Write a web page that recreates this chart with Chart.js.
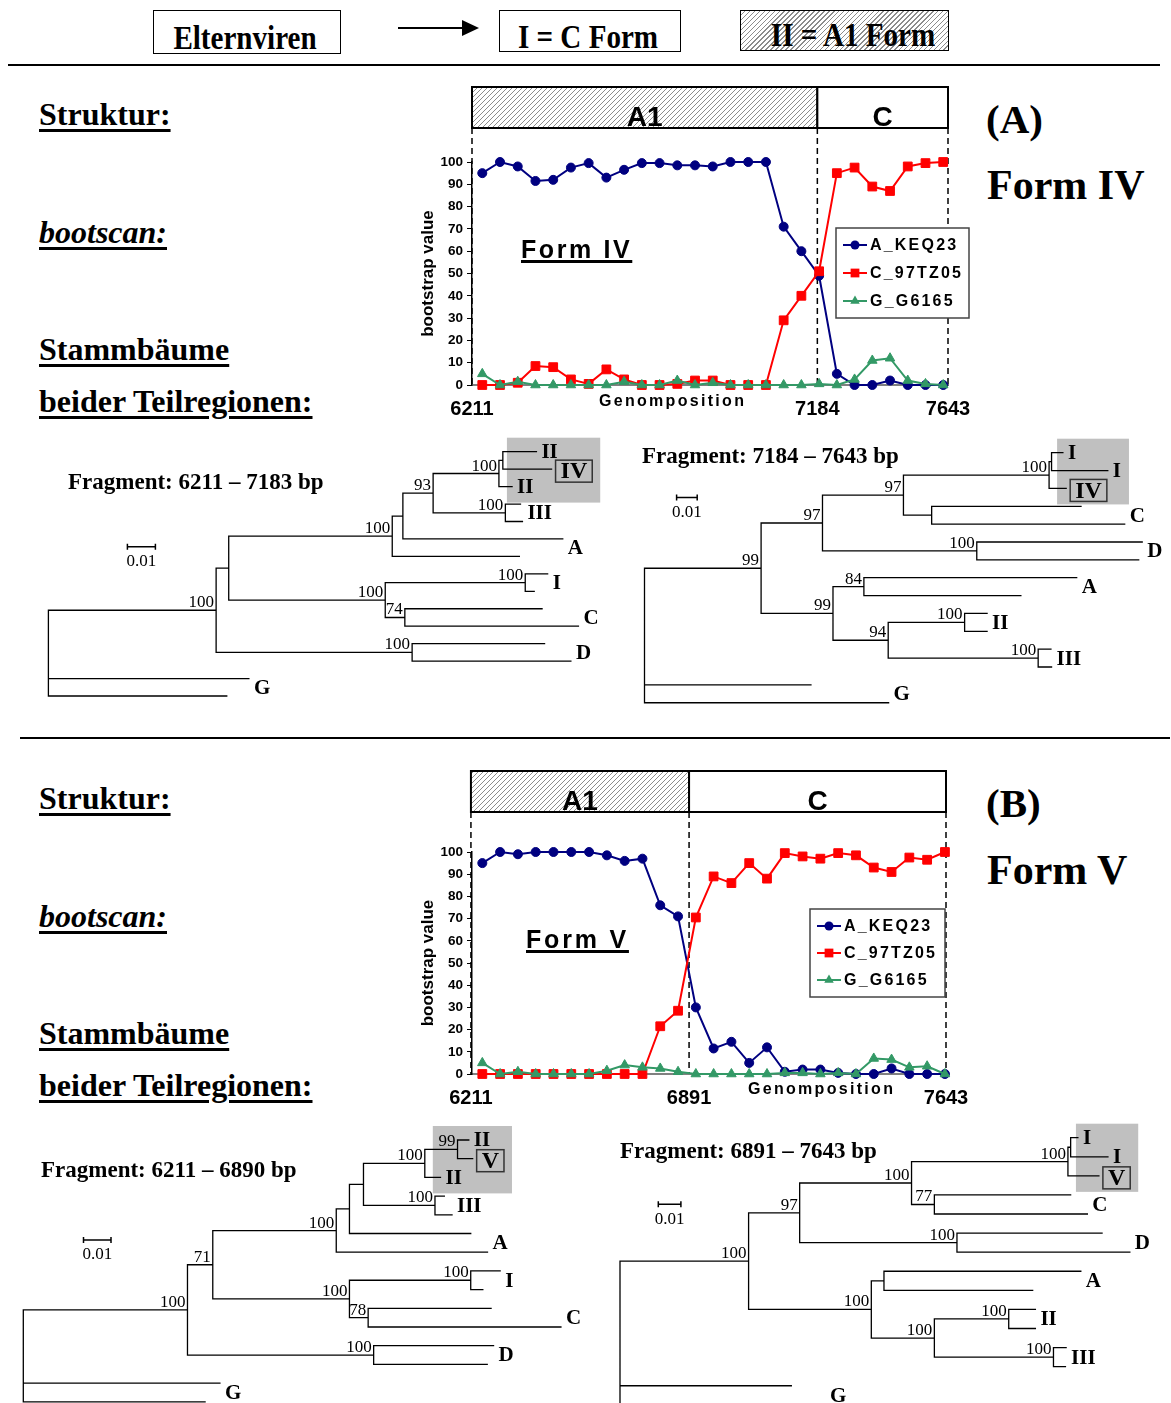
<!DOCTYPE html>
<html>
<head>
<meta charset="utf-8">
<script src="https://cdn.jsdelivr.net/npm/chart.js@4.4.1/dist/chart.umd.min.js"></script>
<style>
html, body { margin: 0; padding: 0; background: #fff; overflow: hidden; }
#page { position: relative; width: 1171px; height: 1403px; overflow: hidden; background: #fff; }
#page canvas { position: absolute; }
.t { position: absolute; white-space: nowrap; line-height: 1; color: #000; }
.serif { font-family: "Times New Roman", "Liberation Serif", serif; font-weight: bold; }
.sans { font-family: Arial, "Liberation Sans", sans-serif; font-weight: bold; }
.ul { text-decoration: underline; text-decoration-thickness: 3px; text-underline-offset: 3px; }
.box { position: absolute; box-sizing: border-box; border: 1.5px solid #000; }
.hatch { background: repeating-linear-gradient(135deg, #fff 0 2.4px, #8c8c8c 2.4px 3.5px); }
.rule { position: absolute; height: 2px; background: #000; }
</style>
</head>
<body>
<div id="page"></div>
<script>
// bootscan values, one per window along the genome (27 windows)
const formIV_A_KEQ23 = [95, 100, 98, 91.5, 92, 97.5, 99.5, 93, 96.5, 99.5, 99.5, 98.5, 98.5, 98, 100, 100, 100, 71, 60, 49, 5, 0, 0, 2, 0, 0, 0];
const formIV_C_97TZ05 = [0, 0, 1, 8.5, 8, 2.5, 0.5, 7, 2.5, 0, 0, 0.5, 2, 2, 0, 0, 0, 29, 40, 51, 95, 97.5, 89, 87, 98, 99.5, 100];
const formIV_G_G6165 = [5, 0, 1.5, 0, 0, 0, 0, 0, 1.5, 0, 0, 2, 0, 1, 0, 0, 0, 0, 0, 0.5, 0, 2.5, 11, 12, 2, 0.5, 0];

const formV_A_KEQ23 = [95, 100, 99, 100, 100, 100, 100, 98.5, 96, 97, 76, 71, 30, 11.5, 14.5, 5, 12, 1, 2, 2, 0.5, 0, 0, 2.5, 0, 0, 0];
const formV_C_97TZ05 = [0, 0, 0, 0, 0, 0, 0, 0, 0, 0, 21.5, 28.5, 70.5, 89, 86, 95, 88, 99.5, 98, 97, 99.5, 98.5, 93, 91, 97.5, 96.5, 100];
const formV_G_G6165 = [5, 0, 1, 0, 0, 0, 0, 1.5, 4, 3, 2.5, 1, 0, 0, 0, 0, 0, 0.5, 0.5, 0, 0.5, 0, 7, 6.5, 3, 3.5, 0];

const seriesNames = ['A_KEQ23', 'C_97TZ05', 'G_G6165'];
const segmentNames = ['A1', 'C'];

// breakpoints (window index) and their genome positions
const breaksIV = [-0.58, 18.9, 26.27];
const breakLabelsIV = ['6211', '7184', '7643'];
const breaksV = [-0.64, 11.62, 26.06];
const breakLabelsV = ['6211', '6891', '7643'];

// trees, newick; *name = own label, #name = boxed recombinant
const treeIV_6211_7183 = "((((((((*II:0.0120,#IV:0.0174):0.0014,*II:0.0047)100:0.0235,(III:0.0054,III:0.0061)100:0.0258)93:0.0108,A:0.0571):0.0038,A:0.0454)100:0.0584,((I:0.0080,I:0.0032)100:0.0500,(C:0.0490,C:0.0620)74:0.0070)100:0.0559):0.0045,(D:0.0473,D:0.0567)100:0.0700)100:0.0599,G:0.0716,G:0.0637);";
const treeIV_7184_7643 = "((((((*I:0.0055,*I:0.0273):0.0012,#IV:0.0083)100:0.0707,(C:0.0725,C:0.0937):0.0137)97:0.0393,(D:0.0803,D:0.0786)100:0.0749)97:0.0298,((A:0.1033,A:0.0762)84:0.0150,((II:0.0109,II:0.0109)100:0.0371,(III:0.0062,III:0.0065)100:0.0728)94:0.0268)99:0.0349)99:0.0566,G:0.0808,G:0.1185);";
const treeV_6211_6890 = "((((((((*II:0.0041,#V:0.0055)99:0.0119,*II:0.0057)100:0.0223,(III:0.0034,III:0.0062)100:0.0260):0.0051,A:0.0441):0.0048,A:0.0550)100:0.0449,((I:0.0107,I:0.0044)100:0.0441,(C:0.0447,C:0.0701)78:0.0068)100:0.0497)71:0.0092,(D:0.0436,D:0.0413)100:0.0677)100:0.0597,G:0.0715,G:0.0661);";
const treeV_6891_7643 = "((((((*I:0.0032,*I:0.0165):0.0012,#V:0.0137)100:0.0692,(C:0.0603,C:0.0677)77:0.0101)100:0.0495,(D:0.0642,D:0.0765)100:0.0696)97:0.0226,((A:0.0871,A:0.0658):0.0056,((II:0.0118,II:0.0118)100:0.0329,(III:0.0056,III:0.0053)100:0.0527)100:0.0279)100:0.0543)100:0.0569,G:0.0758,G:0.0907);";

const SANS = 'Arial, "Liberation Sans", sans-serif';
const SERIF = '"Times New Roman", "Liberation Serif", serif';

const page = document.getElementById('page');

function text(str, x, base, size, cls, extra) {
  const d = document.createElement('div');
  d.className = 't ' + cls;
  d.textContent = str;
  const k = cls.indexOf('sans') >= 0 ? 0.8465 : 0.8375;
  d.style.left = x + 'px';
  d.style.top = (base - k * size) + 'px';
  d.style.fontSize = size + 'px';
  if (extra) Object.assign(d.style, extra);
  page.appendChild(d);
  return d;
}

function block(cls, l, t, w, h) {
  const d = document.createElement('div');
  d.className = cls;
  Object.assign(d.style, {left: l + 'px', top: t + 'px', width: w + 'px', height: h + 'px'});
  page.appendChild(d);
  return d;
}

function canvasAt(l, t, w, h) {
  const c = document.createElement('canvas');
  c.width = w; c.height = h;
  Object.assign(c.style, {left: l + 'px', top: t + 'px', width: w + 'px', height: h + 'px'});
  page.appendChild(c);
  return c;
}

function hatchPattern(ctx) {
  const s = 5, p = document.createElement('canvas');
  p.width = s; p.height = s;
  const g = p.getContext('2d');
  g.strokeStyle = '#8c8c8c';
  g.lineWidth = 1;
  g.beginPath();
  g.moveTo(-1, s + 1); g.lineTo(s + 1, -1);
  g.moveTo(-1, 1); g.lineTo(1, -1);
  g.moveTo(s - 1, s + 1); g.lineTo(s + 1, s - 1);
  g.stroke();
  return ctx.createPattern(p, 'repeat');
}

function marker(ctx, style, x, y, r, color) {
  ctx.fillStyle = color;
  ctx.beginPath();
  if (style === 'circle') {
    ctx.arc(x, y, r, 0, Math.PI * 2);
  } else if (style === 'rect') {
    const s = r * Math.SQRT1_2;
    ctx.rect(x - s, y - s, 2 * s, 2 * s);
  } else {
    ctx.moveTo(x, y - r);
    ctx.lineTo(x + r * 0.866, y + r * 0.5);
    ctx.lineTo(x - r * 0.866, y + r * 0.5);
    ctx.closePath();
  }
  ctx.fill();
}

// ---------- header ----------
block('box', 153, 10, 188, 44);
block('box', 499, 10, 182, 42);
block('box hatch', 740, 10, 209, 41);
const hdr = {transform: 'translateX(-50%) scaleX(0.855)'};
text('Elternviren', 244.5, 49, 34, 'serif', hdr);
text('I = C Form', 588, 48, 34, 'serif', hdr);
text('II = A1 Form', 853, 46.7, 34, 'serif', hdr);
block('rule', 398, 27, 66, 1.5);
const head = block('', 462, 20, 0, 0);
Object.assign(head.style, {position: 'absolute', width: '0', height: '0', borderTop: '8px solid transparent', borderBottom: '8px solid transparent', borderLeft: '17px solid #000'});
block('rule', 8, 64, 1152, 2);
block('rule', 20, 737, 1150, 2);

// ---------- left labels ----------
[0, 684].forEach(dy => {
  text('Struktur:', 39, 125 + dy, 32, 'serif ul', {textUnderlineOffset: '3.5px'});
  text('bootscan:', 39, 242.7 + dy, 32, 'serif ul', {fontStyle: 'italic', textUnderlineOffset: '3.5px'});
  text('Stammbäume', 39, 359.3 + dy, 32, 'serif ul', {textUnderlineOffset: '3.5px'});
  text('beider Teilregionen:', 39, 411.7 + dy, 32, 'serif ul', {textUnderlineOffset: '3.5px'});
});
text('(A)', 986, 133.5, 41, 'serif');
text('Form IV', 987, 199.5, 42, 'serif');
text('(B)', 986, 817.5, 41, 'serif');
text('Form V', 987, 884.5, 42, 'serif');

// ---------- bootscan charts ----------
const seriesStyle = [
  {color: '#000080', pointStyle: 'circle', r: 4.5, order: 2},
  {color: '#ff0000', pointStyle: 'rect', r: 6.2, order: 1},
  {color: '#339966', pointStyle: 'triangle', r: 5.5, order: 0}
];

const scanPanels = [
  {canvas: [380, 80, 620, 360], area: [472, 162, 948, 385], xRange: [-0.58, 26.27],
   breaks: breaksIV, breakLabels: breakLabelsIV,
   series: [formIV_A_KEQ23, formIV_C_97TZ05, formIV_G_G6165],
   box: [87, 128], legend: [836, 228, 133, 90]},
  {canvas: [380, 760, 620, 360], area: [472, 852, 946, 1074], xRange: [-0.58, 26.06],
   breaks: breaksV, breakLabels: breakLabelsV,
   series: [formV_A_KEQ23, formV_C_97TZ05, formV_G_G6165],
   box: [771, 812], legend: [810, 909, 135, 88]}
];

function makeScan(p) {
  const [cl, ct, cw, ch] = p.canvas;
  const [al, at, ar, ab] = p.area;
  const YW = 60, XH = 40;
  const cv = canvasAt(cl, ct, cw, ch);

  const decor = {
    id: 'scanDecor',
    beforeDatasetsDraw(chart) {
      const ctx = chart.ctx, xs = chart.scales.x, area = chart.chartArea;
      const bx = p.breaks.map(v => xs.getPixelForValue(v));
      const top = p.box[0] - ct, bot = p.box[1] - ct;
      ctx.save();
      ctx.setLineDash([6, 4]);
      ctx.lineWidth = 1.5;
      ctx.strokeStyle = '#000';
      bx.forEach(x => {
        ctx.beginPath(); ctx.moveTo(x, bot); ctx.lineTo(x, area.bottom); ctx.stroke();
      });
      ctx.setLineDash([]);
      segmentNames.forEach((name, i) => {
        const x0 = bx[i], x1 = bx[i + 1];
        ctx.fillStyle = i === 0 ? hatchPattern(ctx) : '#fff';
        ctx.fillRect(x0, top, x1 - x0, bot - top);
        ctx.lineWidth = 2;
        ctx.strokeStyle = '#000';
        ctx.strokeRect(x0, top, x1 - x0, bot - top);
        ctx.fillStyle = '#000';
        ctx.font = 'bold 28px ' + SANS;
        ctx.textAlign = 'center';
        ctx.textBaseline = 'alphabetic';
        ctx.fillText(name, (x0 + x1) / 2, bot - 2);
      });
      ctx.restore();
    },
    afterDatasetsDraw(chart) {
      const ctx = chart.ctx;
      const [lx, ly, lw, lh] = p.legend;
      const x = lx - cl, y = ly - ct;
      ctx.save();
      ctx.fillStyle = '#fff';
      ctx.fillRect(x, y, lw, lh);
      ctx.strokeStyle = '#444';
      ctx.lineWidth = 1.5;
      ctx.strokeRect(x, y, lw, lh);
      const step = (lh - 34) / 2;
      chart.data.datasets.forEach((ds, i) => {
        const st = seriesStyle[i], ry = y + 17 + i * step;
        ctx.strokeStyle = st.color;
        ctx.lineWidth = 2;
        ctx.beginPath(); ctx.moveTo(x + 7, ry); ctx.lineTo(x + 31, ry); ctx.stroke();
        marker(ctx, st.pointStyle, x + 19, ry, st.r, st.color);
        ctx.fillStyle = '#000';
        ctx.font = 'bold 16px ' + SANS;
        ctx.letterSpacing = '2.2px';
        ctx.textAlign = 'left';
        ctx.textBaseline = 'middle';
        ctx.fillText(ds.label, x + 34, ry + 1);
        ctx.letterSpacing = '0px';
      });
      ctx.restore();
    }
  };

  new Chart(cv, {
    type: 'line',
    data: {
      datasets: p.series.map((vals, k) => ({
        label: seriesNames[k],
        data: vals.map((v, i) => ({x: i, y: v})),
        borderColor: seriesStyle[k].color,
        backgroundColor: seriesStyle[k].color,
        pointBackgroundColor: seriesStyle[k].color,
        pointBorderColor: seriesStyle[k].color,
        pointBorderWidth: 1,
        pointStyle: seriesStyle[k].pointStyle,
        pointRadius: seriesStyle[k].r,
        borderWidth: 2,
        tension: 0,
        order: seriesStyle[k].order,
        clip: false
      }))
    },
    options: {
      responsive: false,
      animation: false,
      events: [],
      layout: {padding: {left: al - cl - YW, top: at - ct, right: cl + cw - ar, bottom: ct + ch - ab - XH}},
      plugins: {legend: {display: false}, tooltip: {enabled: false}},
      scales: {
        x: {
          type: 'linear', bounds: 'data', min: p.xRange[0], max: p.xRange[1],
          afterBuildTicks: s => { s.ticks = p.breaks.map(v => ({value: v})); },
          afterFit: s => { s.height = XH; },
          grid: {display: false, drawTicks: false},
          border: {display: true, color: '#808080', width: 2},
          ticks: {autoSkip: false, maxRotation: 0, padding: 12, color: '#000',
                  font: {family: SANS, size: 20, weight: 'bold'},
                  callback: (v, i) => p.breakLabels[i]}
        },
        y: {
          min: 0, max: 100,
          afterFit: s => { s.width = YW; },
          ticks: {stepSize: 10, padding: 4, color: '#000', font: {family: SANS, size: 13.5, weight: 'bold'}},
          grid: {drawOnChartArea: false, tickLength: 5, color: '#000'},
          border: {display: true, color: '#000', width: 1.5},
          title: {display: true, text: 'bootstrap value', color: '#000',
                  font: {family: SANS, size: 17, weight: 'bold'}, padding: {top: 6, bottom: 0}}
        }
      }
    },
    plugins: [decor]
  });
}

scanPanels.forEach(makeScan);

text('Form IV', 521, 258, 25, 'sans ul', {letterSpacing: '2.6px', textUnderlineOffset: '2px'});
text('Genomposition', 599, 406.7, 16, 'sans', {letterSpacing: '2.3px'});
text('Form V', 526, 948, 25, 'sans ul', {letterSpacing: '2.8px', textUnderlineOffset: '2px'});
text('Genomposition', 748, 1094.7, 16, 'sans', {letterSpacing: '2.3px'});

// ---------- trees ----------
function parseNewick(s) {
  let i = 0;
  function node() {
    const n = {children: [], name: '', length: 0, support: ''};
    if (s[i] === '(') {
      i++;
      n.children.push(node());
      while (s[i] === ',') { i++; n.children.push(node()); }
      i++;
    }
    let tok = '';
    while (i < s.length && ',):;'.indexOf(s[i]) < 0) tok += s[i++];
    if (n.children.length) n.support = tok; else n.name = tok;
    if (s[i] === ':') {
      i++;
      let num = '';
      while (i < s.length && ',);'.indexOf(s[i]) < 0) num += s[i++];
      n.length = parseFloat(num);
    }
    n.children.forEach(c => { c.parent = n; });
    return n;
  }
  return node();
}

function layoutTree(root) {
  const leaves = [], nodes = [];
  (function walk(n, x) {
    n.x = x + n.length;
    nodes.push(n);
    if (!n.children.length) {
      n.y = leaves.length;
      n.lo = n.hi = leaves.length;
      leaves.push(n);
    } else {
      n.children.forEach(c => walk(c, n.x));
      const first = n.children[0], last = n.children[n.children.length - 1];
      n.y = (first.y + last.y) / 2;
      n.lo = first.lo; n.hi = last.hi;
    }
  })(root, 0);
  return {leaves, nodes};
}

const treePanels = [
  {nwk: treeIV_6211_7183, title: 'Fragment: 6211 – 7183 bp', titleAt: [68, 489],
   canvas: [0, 430, 620, 290], rootX: 48.4, leafTop: 451.7, leafStep: 17.45, px001: 28, bar: [127.4, 546.7]},
  {nwk: treeIV_7184_7643, title: 'Fragment: 7184 – 7643 bp', titleAt: [642, 463],
   canvas: [625, 430, 546, 290], rootX: 644.5, leafTop: 452.7, leafStep: 17.86, px001: 20.6, bar: [676.6, 497.5]},
  {nwk: treeV_6211_6890, title: 'Fragment: 6211 – 6890 bp', titleAt: [41, 1177.6],
   canvas: [0, 1115, 600, 288], rootX: 23.3, leafTop: 1140, leafStep: 18.7, px001: 27.5, bar: [83.5, 1240]},
  {nwk: treeV_6891_7643, title: 'Fragment: 6891 – 7643 bp', titleAt: [620, 1158.6],
   canvas: [600, 1115, 571, 300], rootX: 620, leafTop: 1137.7, leafStep: 19.08, px001: 22.6, bar: [658.3, 1204.3]}
];

function makeTree(p) {
  const root = parseNewick(p.nwk);
  const {leaves, nodes} = layoutTree(root);
  const [cl, ct, cw, ch] = p.canvas;
  const padL = p.rootX - cl, padT = p.leafTop - ct, padR = 10;
  const padB = ct + ch - (p.leafTop + (leaves.length - 1) * p.leafStep);
  const xMax = (cw - padL - padR) / (p.px001 * 100);

  const pts = [];
  nodes.forEach(n => {
    if (n.parent) pts.push({x: n.parent.x, y: n.y}, {x: n.x, y: n.y}, {x: null, y: null});
    if (n.children.length) {
      pts.push({x: n.x, y: n.children[0].y}, {x: n.x, y: n.children[n.children.length - 1].y}, {x: null, y: null});
    }
  });

  const groups = [];
  leaves.forEach(l => {
    const kind = l.name[0] === '*' ? 'single' : l.name[0] === '#' ? 'boxed' : 'plain';
    const txt = kind === 'plain' ? l.name : l.name.slice(1);
    const last = groups[groups.length - 1];
    if (kind === 'plain' && last && last.kind === 'plain' && last.txt === txt) last.leaves.push(l);
    else groups.push({kind, txt, leaves: [l]});
  });
  const query = groups.filter(g => g.kind !== 'plain');
  const qLo = query[0].leaves[0].lo, qHi = query[query.length - 1].leaves[0].hi;
  let lca = root;
  nodes.forEach(n => {
    if (n.children.length && n.lo <= qLo && n.hi >= qHi && (n.hi - n.lo) < (lca.hi - lca.lo)) lca = n;
  });

  function labelGeom(chart, g) {
    const xs = chart.scales.x, ys = chart.scales.y, ctx = chart.ctx;
    const tip = Math.max(...g.leaves.map(l => xs.getPixelForValue(l.x)));
    const y = g.leaves.reduce((a, l) => a + ys.getPixelForValue(l.y), 0) / g.leaves.length;
    if (g.kind === 'boxed') {
      ctx.font = 'bold 24px ' + SERIF;
      const w = ctx.measureText(g.txt).width + 10;
      return {x: tip + 4, y: y + 2, w, right: tip + 4 + w};
    }
    ctx.font = 'bold 21px ' + SERIF;
    const w = ctx.measureText(g.txt).width;
    return {x: tip + 5, y, w, right: tip + 5 + w};
  }

  const decor = {
    id: 'treeDecor',
    beforeDatasetsDraw(chart) {
      const ctx = chart.ctx, xs = chart.scales.x, ys = chart.scales.y;
      ctx.save();
      const right = Math.max(...query.map(g => labelGeom(chart, g).right)) + 8;
      const left = xs.getPixelForValue(lca.x) + 8;
      const top = ys.getPixelForValue(qLo) - 14, bot = ys.getPixelForValue(qHi) + 16;
      ctx.fillStyle = '#c0c0c0';
      ctx.fillRect(left, top, right - left, bot - top);
      ctx.restore();
    },
    afterDatasetsDraw(chart) {
      const ctx = chart.ctx, xs = chart.scales.x, ys = chart.scales.y;
      ctx.save();
      ctx.fillStyle = '#000';
      ctx.font = '17px ' + SERIF;
      ctx.textAlign = 'right';
      ctx.textBaseline = 'alphabetic';
      nodes.forEach(n => {
        if (n.children.length && n.support) {
          ctx.fillText(n.support, xs.getPixelForValue(n.x) - 2, ys.getPixelForValue(n.y) - 3);
        }
      });
      ctx.textAlign = 'left';
      ctx.textBaseline = 'middle';
      groups.forEach(g => {
        const m = labelGeom(chart, g);
        if (g.kind === 'boxed') {
          ctx.font = 'bold 24px ' + SERIF;
          ctx.strokeStyle = '#333';
          ctx.lineWidth = 1.5;
          ctx.strokeRect(m.x, m.y - 11, m.w, 22);
          ctx.fillText(g.txt, m.x + 5, m.y + 1);
        } else {
          ctx.font = 'bold 21px ' + SERIF;
          ctx.fillText(g.txt, m.x, m.y + 1);
        }
      });
      // scale bar
      const bx = p.bar[0] - cl, by = p.bar[1] - ct;
      const bw = xs.getPixelForValue(0.01) - xs.getPixelForValue(0);
      ctx.strokeStyle = '#000';
      ctx.lineWidth = 1.5;
      ctx.beginPath();
      ctx.moveTo(bx, by); ctx.lineTo(bx + bw, by);
      ctx.moveTo(bx, by - 3); ctx.lineTo(bx, by + 3);
      ctx.moveTo(bx + bw, by - 3); ctx.lineTo(bx + bw, by + 3);
      ctx.stroke();
      ctx.font = '17px ' + SERIF;
      ctx.textAlign = 'center';
      ctx.fillText('0.01', bx + bw / 2, by + 15);
      ctx.restore();
    }
  };

  const cv = canvasAt(cl, ct, cw, ch);
  new Chart(cv, {
    type: 'scatter',
    data: {datasets: [{data: pts, showLine: true, spanGaps: false, borderColor: '#000', borderWidth: 1.3,
                       borderCapStyle: 'square', pointRadius: 0, pointHoverRadius: 0, clip: false}]},
    options: {
      responsive: false,
      animation: false,
      events: [],
      layout: {padding: {left: padL, top: padT, right: padR, bottom: padB}},
      plugins: {legend: {display: false}, tooltip: {enabled: false}},
      scales: {
        x: {type: 'linear', display: false, min: 0, max: xMax},
        y: {type: 'linear', display: false, min: 0, max: leaves.length - 1, reverse: true}
      }
    },
    plugins: [decor]
  });

  text(p.title, p.titleAt[0], p.titleAt[1], 23, 'serif');
}

treePanels.forEach(makeTree);
</script>
</body>
</html>
